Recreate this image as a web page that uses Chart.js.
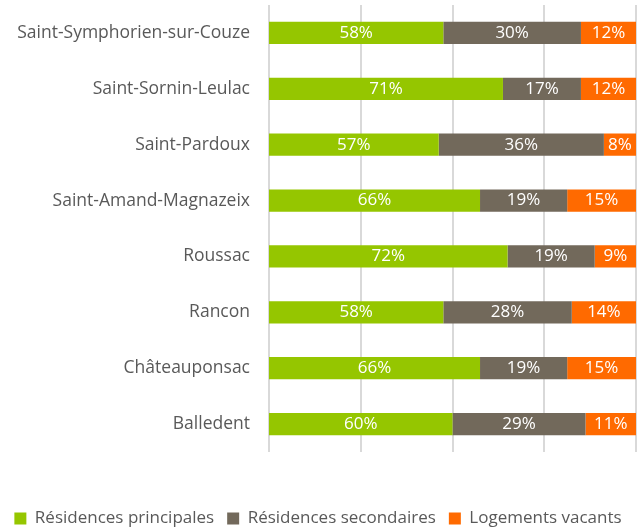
<!DOCTYPE html>
<html>
<head>
<meta charset="utf-8">
<script src="https://cdn.jsdelivr.net/npm/chart.js@4"></script>
<style>
  html, body { margin: 0; padding: 0; background: #fff; }
  #wrap { width: 637px; height: 529px; }
</style>
</head>
<body>
<div id="wrap"><canvas id="chart"></canvas></div>
<script>
// --- Data ---
const communes = ['Saint-Symphorien-sur-Couze', 'Saint-Sornin-Leulac', 'Saint-Pardoux',
    'Saint-Amand-Magnazeix', 'Roussac', 'Rancon', 'Châteauponsac', 'Balledent'];
const principales = [58, 71, 57, 66, 72, 58, 66, 60];
const secondaires = [30, 17, 36, 19, 19, 28, 19, 29];
const vacants = [12, 12, 8, 15, 9, 14, 15, 11];
const seriesNames = ['Résidences principales', 'Résidences secondaires', 'Logements vacants'];

const FONT = "'Open Sans', sans-serif";

// white % labels centred on the visible part of each segment
const segmentLabels = {
    id: 'segmentLabels',
    afterDatasetsDraw(chart) {
        const { ctx, chartArea } = chart;
        ctx.save();
        ctx.fillStyle = '#ffffff';
        ctx.font = '17px ' + FONT;
        ctx.textAlign = 'center';
        ctx.textBaseline = 'middle';
        chart.data.datasets.forEach((ds, i) => {
            chart.getDatasetMeta(i).data.forEach((bar, j) => {
                const left = Math.max(Math.min(bar.base, bar.x), chartArea.left);
                const right = Math.min(Math.max(bar.base, bar.x), chartArea.right);
                ctx.fillText(ds.data[j] + '%', (left + right) / 2, bar.y);
            });
        });
        ctx.restore();
    }
};

const ctx = document.getElementById('chart').getContext('2d');
new Chart(ctx, {
    type: 'bar',
    data: {
        labels: communes,
        datasets: [
            { label: seriesNames[0], data: principales, backgroundColor: '#95c600' },
            { label: seriesNames[1], data: secondaires, backgroundColor: '#72695b' },
            { label: seriesNames[2], data: vacants, backgroundColor: '#ff6a00' }
        ]
    },
    options: {
        indexAxis: 'y',
        responsive: true,
        maintainAspectRatio: false,
        animation: false,
        datasets: {
            bar: { categoryPercentage: 1, barPercentage: 0.4 }
        },
        layout: { padding: { top: 5, right: 1, left: 0, bottom: -8 } },
        scales: {
            x: {
                stacked: true,
                min: 20,
                max: 100,
                ticks: { display: false, stepSize: 20 },
                grid: { color: '#d9d9d9', lineWidth: 2, drawTicks: false },
                border: { display: false },
                afterFit: (scale) => { scale.height = 45; }
            },
            y: {
                stacked: true,
                // hidden tick marks give the gap between names and bars
                grid: { display: false, drawTicks: true, tickLength: 19 },
                border: { display: false },
                ticks: {
                    padding: 0,
                    color: '#595959',
                    font: { size: 17.5, family: FONT, lineHeight: 0.5 }
                },
                afterFit: (scale) => { scale.width = 269; }
            }
        },
        plugins: {
            tooltip: { enabled: false },
            legend: {
                position: 'bottom',
                labels: {
                    boxWidth: 12,
                    boxHeight: 12,
                    padding: 13,
                    color: '#595959',
                    font: { size: 17, family: FONT }
                }
            }
        }
    },
    plugins: [segmentLabels]
});
</script>
</body>
</html>
